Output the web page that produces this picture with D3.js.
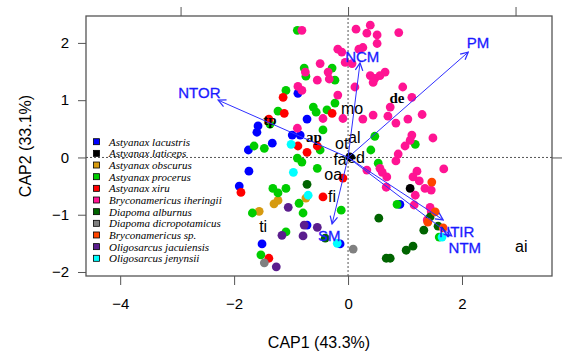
<!DOCTYPE html>
<html>
<head>
<meta charset="utf-8">
<script src="https://cdn.jsdelivr.net/npm/d3@7"></script>
<style>
  body { margin: 0; background: #fff; }
  svg { display: block; }
</style>
</head>
<body>
<svg id="chart"></svg>
<script>
// species (legend order) and colours
const species = ['Astyanax lacustris', 'Astyanax laticeps', 'Astyanax obscurus', 'Astyanax procerus',
    'Astyanax xiru', 'Bryconamericus iheringii', 'Diapoma alburnus', 'Diapoma dicropotamicus',
    'Bryconamericus sp.', 'Oligosarcus jacuiensis', 'Oligosarcus jenynsii'];
const speciesColors = ['#0000ff', '#000000', '#d69a10', '#00cd00', '#ff0000', '#ff1493',
    '#006400', '#808080', '#ff4500', '#5b1e8e', '#00ffff'];

// site scores [CAP1, CAP2] per species
const lacustris = [[-0.88, 1.12], [-0.72, 0.67], [-1.58, 0.55], [-1.60, 0.44], [-0.98, 0.39], [-0.84, 0.39],
    [-1.33, 0.25], [-1.75, 0.13], [-1.74, -0.24], [-1.91, -0.50], [-1.51, -1.51], [0.91, -0.82],
    [-0.14, -1.51], [-0.72, -1.18]];
const laticeps = [[1.09, -0.54], [0.03, 0.01]];
const obscurus = [[-1.23, -0.75], [-1.30, -0.81], [-1.56, -0.94], [-0.74, -0.71]];
const procerus = [[-0.89, 2.22], [-0.77, 1.56], [-0.74, 1.42], [-1.09, 1.17], [-1.23, 0.81], [-1.37, 0.58],
    [-1.65, 0.20], [-1.47, 0.16], [-0.89, -0.01], [-0.81, -0.08], [-1.32, -0.54], [-1.09, -0.54],
    [-1.23, -0.62], [-1.68, -0.97], [-0.86, -0.80], [-0.79, -0.97], [-1.09, -1.30], [-1.53, -1.70],
    [-0.54, -0.19], [-0.12, -0.92], [-0.28, 1.56], [-0.23, 1.35], [-0.61, 0.88], [-0.56, 0.79],
    [-0.37, 0.83], [-0.23, 0.95], [-0.44, 0.48], [-0.49, 0.13], [0.47, 0.37], [0.40, 0.13],
    [0.53, -0.10], [1.18, 0.23], [0.86, -0.82], [1.60, -1.39]];
const xiru = [[-1.14, 1.05], [-1.12, 0.77], [-1.39, 0.67], [-0.88, 0.20], [-0.72, 0.09], [-0.54, 0.20],
    [-0.28, 0.77], [-1.88, -0.61], [-1.39, -1.76], [-0.09, -0.36], [-0.44, -0.69]];
const iheringii = [[-0.81, 2.22], [0.14, 2.24], [0.39, 2.31], [0.33, 2.17], [0.51, 2.14], [0.51, 1.99],
    [0.89, 2.18], [0.26, 1.92], [0.19, 1.89], [-0.18, 1.89], [-0.11, 1.84], [0.07, 1.64], [-0.05, 1.66],
    [0.39, 1.43], [0.47, 1.38], [0.56, 1.43], [0.65, 1.49], [0.44, 1.31], [-0.49, 1.64], [-0.75, 1.49],
    [-0.54, 1.35], [-0.35, 1.49], [-0.33, 1.37], [-0.88, 1.24], [-0.81, 1.17], [-0.18, 1.09],
    [0.12, 1.23], [0.96, 1.23], [1.12, 1.05], [0.74, 0.88], [0.70, 0.72], [0.84, 0.60], [1.05, 0.67],
    [1.30, 0.75], [0.44, 0.74], [0.26, 0.67], [-0.09, 0.68], [-0.44, 0.68], [1.12, 0.39], [1.09, 0.30],
    [1.00, 0.20], [1.49, 0.34], [0.88, 0.06], [0.84, -0.06], [-0.89, 0.51], [0.33, -0.22], [0.56, -0.19],
    [0.68, -0.34], [0.60, -0.26], [1.68, -0.20], [1.21, -0.24], [1.14, -0.34], [1.25, -0.41],
    [1.35, -0.54], [1.46, -0.57], [1.18, -0.66], [1.16, -0.83], [1.44, -0.87], [1.46, -0.95],
    [1.39, -1.09], [0.67, -0.52]];
const alburnus = [[-0.72, -0.47], [0.54, -1.06], [0.67, -1.76], [0.74, -1.76], [1.02, -1.62],
    [1.14, -1.55], [1.44, -1.04], [1.33, -1.27], [-0.40, -1.41], [1.58, -1.20]];
const dicropotamicus = [[-1.47, -1.84], [0.09, -1.60]];
const bryconSp = [[1.47, -0.43], [1.53, -0.95], [1.40, -1.13], [1.67, -1.23]];
const jacuiensis = [[-1.05, -0.87], [-0.77, -1.18], [-0.79, -1.37], [-0.54, -1.22], [-1.16, -1.36],
    [-1.26, -1.91]];
const jenynsii = [[-1.00, 0.23], [-0.96, -0.26], [-0.70, -0.66], [-0.19, -1.50], [1.65, -1.39]];

const sitePoints = [lacustris, laticeps, obscurus, procerus, xiru, iheringii, alburnus,
    dicropotamicus, bryconSp, jacuiensis, jenynsii];

// environmental vectors
const envNames = ['NTOR', 'NCM', 'PM', 'NTIR', 'NTM', 'SM'];
const envX = [-2.28, 0.21, 2.11, 1.67, 1.82, -0.28];
const envY = [1.00, 1.65, 1.84, -1.09, -1.37, -1.16];
const envLabelX = [-2.61, 0.25, 2.28, 1.91, 2.05, -0.33];
const envLabelY = [1.14, 1.77, 2.00, -1.29, -1.57, -1.36];

// species score labels
const scoreNames = ['tp', 'ap', 'de', 'mo', 'al', 'ot', 'ed', 'fa', 'oa', 'fi', 'ti', 'ai'];
const scoreX = [-1.37, -0.60, 0.86, 0.07, 0.11, -0.11, 0.14, -0.14, -0.26, -0.28, -1.49, 3.04];
const scoreY = [0.65, 0.36, 1.04, 0.86, 0.35, 0.25, 0.00, -0.04, -0.29, -0.69, -1.20, -1.56];
const scoreSerif = ['tp', 'ap', 'de'];

const xTicks = [-4, -2, 0, 2];
const yTicks = [-2, -1, 0, 1, 2];

const width = 584, height = 352;
const margin = { top: 16, right: 32, bottom: 76, left: 86 };
const sans = 'Arial, "Liberation Sans", sans-serif';

const svg = d3.select('#chart').attr('width', width).attr('height', height);

const x = d3.scaleLinear().domain([-4.6, 3.58]).range([margin.left, width - margin.right]);
const y = d3.scaleLinear().domain([-2.07, 2.47]).range([height - margin.bottom, margin.top]);

// species-score axes (top / right) use another scaling
const ratio = 2.94;
const xTop = d3.scaleLinear().domain(x.domain().map(d => d / ratio)).range(x.range());
const yRight = d3.scaleLinear().domain(y.domain().map(d => d / ratio)).range(y.range());

// dotted zero lines
svg.append('line')
    .attr('x1', x.range()[0]).attr('x2', x.range()[1])
    .attr('y1', y(0)).attr('y2', y(0))
    .attr('stroke', '#555').attr('stroke-dasharray', '2,2');
svg.append('line')
    .attr('x1', x(0)).attr('x2', x(0))
    .attr('y1', y.range()[0]).attr('y2', y.range()[1])
    .attr('stroke', '#555').attr('stroke-dasharray', '2,2');

const styleAxis = g => {
    g.select('.domain').remove();
    g.selectAll('line').attr('stroke', '#555');
    g.selectAll('text').attr('fill', '#000').style('font-family', sans).style('font-size', '15px');
};

svg.append('g')
    .attr('transform', `translate(0,${ height - margin.bottom })`)
    .call(d3.axisBottom(x).tickValues(xTicks).tickSize(9).tickPadding(13).tickFormat(d3.format('d')))
    .call(styleAxis);
svg.append('g')
    .attr('transform', `translate(${ margin.left },0)`)
    .call(d3.axisLeft(y).tickValues(yTicks).tickSize(8).tickPadding(9).tickFormat(d3.format('d')))
    .call(styleAxis);
svg.append('g')
    .attr('transform', `translate(0,${ margin.top })`)
    .call(d3.axisTop(xTop).tickValues([-1, 0, 1]).tickSize(9).tickFormat(''))
    .call(styleAxis);
const right = svg.append('g')
    .attr('transform', `translate(${ width - margin.right },0)`)
    .call(d3.axisRight(yRight).tickValues([0]).tickSize(10).tickFormat(''))
    .call(styleAxis);
right.append('text')
    .attr('transform', `translate(32,${ yRight(0) }) rotate(-90)`)
    .attr('text-anchor', 'middle')
    .style('font-family', sans).style('font-size', '15px')
    .text('0');

// box
svg.append('rect')
    .attr('x', x.range()[0]).attr('y', y.range()[1])
    .attr('width', x.range()[1] - x.range()[0])
    .attr('height', y.range()[0] - y.range()[1])
    .attr('fill', 'none').attr('stroke', '#555').attr('stroke-width', 1.3);

// axis titles
svg.append('text')
    .attr('x', (x.range()[0] + x.range()[1]) / 2).attr('y', 348)
    .attr('text-anchor', 'middle')
    .style('font-family', sans).style('font-size', '16px')
    .text('CAP1 (43.3%)');
svg.append('text')
    .attr('transform', `translate(31,${ (y.range()[0] + y.range()[1]) / 2 }) rotate(-90)`)
    .attr('text-anchor', 'middle')
    .style('font-family', sans).style('font-size', '16px')
    .text('CAP2 (33.1%)');

// site points
sitePoints.forEach((pts, i) => {
    svg.append('g').selectAll('circle')
        .data(pts)
        .join('circle')
        .attr('cx', d => x(d[0]))
        .attr('cy', d => y(d[1]))
        .attr('r', 4.4)
        .attr('fill', speciesColors[i]);
});

// species score labels
svg.append('g').selectAll('text')
    .data(scoreNames)
    .join('text')
    .attr('x', (d, i) => x(scoreX[i]))
    .attr('y', (d, i) => y(scoreY[i]))
    .attr('text-anchor', 'middle')
    .attr('dominant-baseline', 'central')
    .style('font-family', d => scoreSerif.includes(d) ? '"Liberation Serif", "Times New Roman", serif' : sans)
    .style('font-weight', d => scoreSerif.includes(d) ? 'bold' : 'normal')
    .style('font-size', d => scoreSerif.includes(d) ? '15px' : '16px')
    .text(d => d);

// environmental arrows
svg.append('defs').append('marker')
    .attr('id', 'head')
    .attr('markerUnits', 'userSpaceOnUse')
    .attr('markerWidth', 10).attr('markerHeight', 10)
    .attr('viewBox', '-7 -4 8 8')
    .attr('refX', 0).attr('refY', 0)
    .attr('orient', 'auto')
    .append('path')
    .attr('d', 'M-6,-3L0,0L-6,3')
    .attr('fill', 'none').attr('stroke', '#2f2fff').attr('stroke-width', 1);

svg.append('g').selectAll('line')
    .data(envNames)
    .join('line')
    .attr('x1', x(0)).attr('y1', y(0))
    .attr('x2', (d, i) => x(envX[i]))
    .attr('y2', (d, i) => y(envY[i]))
    .attr('stroke', '#2f2fff').attr('stroke-width', 1)
    .attr('marker-end', 'url(#head)');

svg.append('g').selectAll('text')
    .data(envNames)
    .join('text')
    .attr('x', (d, i) => x(envLabelX[i]))
    .attr('y', (d, i) => y(envLabelY[i]))
    .attr('text-anchor', 'middle')
    .attr('dominant-baseline', 'central')
    .attr('fill', '#1a1aff')
    .attr('stroke', '#1a1aff').attr('stroke-width', 0.3)
    .style('font-family', sans).style('font-size', '15px')
    .text(d => d);

// legend
const legend = svg.append('g').attr('transform', 'translate(93.5,141.7)');
const rows = legend.selectAll('g')
    .data(species)
    .join('g')
    .attr('transform', (d, i) => `translate(0,${ i * 11.66 })`);
rows.append('rect')
    .attr('x', 0).attr('y', -3).attr('width', 6).attr('height', 6)
    .attr('fill', (d, i) => speciesColors[i])
    .attr('stroke', '#000').attr('stroke-width', 0.8);
rows.append('text')
    .attr('x', 15.5).attr('y', 0)
    .attr('dominant-baseline', 'central')
    .style('font-family', '"Liberation Serif", "Times New Roman", serif')
    .style('font-style', 'italic')
    .style('font-size', '11px')
    .text(d => d);
</script>
</body>
</html>
